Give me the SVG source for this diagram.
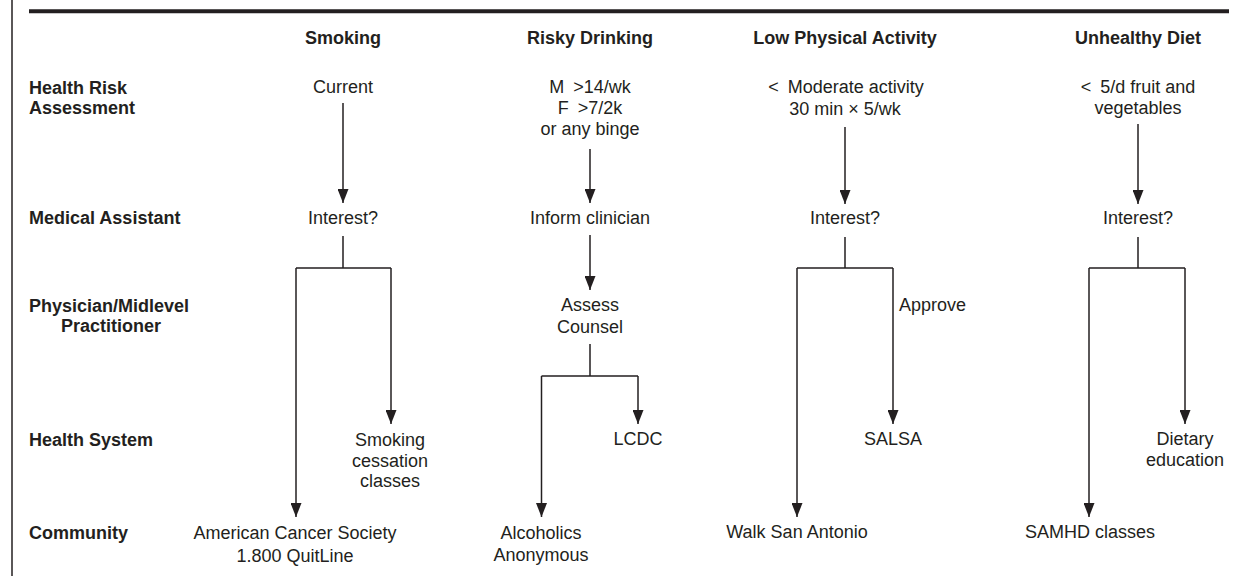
<svg xmlns="http://www.w3.org/2000/svg" width="1238" height="576" viewBox="0 0 1238 576">
<style>
text{font-family:"Liberation Sans",Arial,sans-serif;font-size:18px;fill:#231f20}
.b{font-weight:bold}
.m{text-anchor:middle}
.c line,.c path{stroke:#231f20;stroke-width:1.5;fill:none}
</style>
<defs>
<marker id="ah" markerUnits="userSpaceOnUse" markerWidth="14" markerHeight="11" refX="14" refY="5.5" orient="auto">
<path d="M0,0 L14,5.5 L0,11 Z" fill="#231f20"/>
</marker>
</defs>
<rect width="1238" height="576" fill="#fff"/>
<g id="frame">
<line x1="12" y1="0" x2="12" y2="576" stroke="#231f20" stroke-width="1.5"/>
<line x1="29" y1="11.3" x2="1229" y2="11.3" stroke="#231f20" stroke-width="4"/>
</g>
<g id="row-labels" class="b">
<text class="b" x="29" y="94">Health Risk</text>
<text class="b" x="29" y="114">Assessment</text>
<text class="b" x="29" y="224">Medical Assistant</text>
<text class="b" x="29" y="312">Physician/Midlevel</text>
<text class="b m" x="111" y="332">Practitioner</text>
<text class="b" x="29" y="446">Health System</text>
<text class="b" x="29" y="539">Community</text>
</g>
<g id="headers">
<text class="b m" x="343" y="44">Smoking</text>
<text class="b m" x="590" y="44">Risky Drinking</text>
<text class="b m" x="845" y="44">Low Physical Activity</text>
<text class="b m" x="1138" y="44">Unhealthy Diet</text>
</g>
<g class="c" id="connectors">
<line x1="343" y1="103" x2="343" y2="203" marker-end="url(#ah)"/>
<path d="M343,236 V268 M296,268 H391"/>
<line x1="296" y1="268" x2="296" y2="517" marker-end="url(#ah)"/>
<line x1="391" y1="268" x2="391" y2="424" marker-end="url(#ah)"/>
<line x1="590" y1="149" x2="590" y2="203" marker-end="url(#ah)"/>
<line x1="590" y1="235" x2="590" y2="290" marker-end="url(#ah)"/>
<path d="M590,344 V376 M541.5,376 H638"/>
<line x1="541.5" y1="376" x2="541.5" y2="517" marker-end="url(#ah)"/>
<line x1="638" y1="376" x2="638" y2="424" marker-end="url(#ah)"/>
<line x1="845" y1="127" x2="845" y2="204" marker-end="url(#ah)"/>
<path d="M845,237 V268 M797,268 H893"/>
<line x1="797" y1="268" x2="797" y2="517" marker-end="url(#ah)"/>
<line x1="893" y1="268" x2="893" y2="424" marker-end="url(#ah)"/>
<line x1="1138" y1="124" x2="1138" y2="204" marker-end="url(#ah)"/>
<path d="M1138,237 V268 M1089,268 H1185"/>
<line x1="1089" y1="268" x2="1089" y2="517" marker-end="url(#ah)"/>
<line x1="1185" y1="268" x2="1185" y2="424" marker-end="url(#ah)"/>
</g>
<g id="smoking-current"><text class="m" x="343" y="93">Current</text></g>
<g id="smoking-interest"><text class="m" x="343" y="224">Interest?</text></g>
<g id="smoking-classes"><text class="m" x="390" y="446">Smoking</text><text class="m" x="390" y="466.5">cessation</text><text class="m" x="390" y="487">classes</text></g>
<g id="smoking-acs"><text class="m" x="295" y="539">American Cancer Society</text><text class="m" x="295" y="562">1.800 QuitLine</text></g>
<g id="drinking-criteria"><text class="m" x="590" y="93">M <tspan dx="4">&gt;14/wk</tspan></text><text class="m" x="590" y="114">F <tspan dx="4">&gt;7/2k</tspan></text><text class="m" x="590" y="135">or any binge</text></g>
<g id="drinking-inform"><text class="m" x="590" y="224">Inform clinician</text></g>
<g id="drinking-assess"><text class="m" x="590" y="311">Assess</text><text class="m" x="590" y="333">Counsel</text></g>
<g id="drinking-lcdc"><text class="m" x="638" y="445">LCDC</text></g>
<g id="drinking-aa"><text class="m" x="541" y="539">Alcoholics</text><text class="m" x="541" y="561">Anonymous</text></g>
<g id="activity-criteria"><text class="m" x="846" y="93">&lt; <tspan dx="4">Moderate activity</tspan></text><text class="m" x="845" y="115">30 min × 5/wk</text></g>
<g id="activity-interest"><text class="m" x="845" y="224">Interest?</text></g>
<g id="activity-approve"><text x="899" y="311">Approve</text></g>
<g id="activity-salsa"><text class="m" x="893" y="445">SALSA</text></g>
<g id="activity-walk"><text class="m" x="797" y="538">Walk San Antonio</text></g>
<g id="diet-criteria"><text class="m" x="1138" y="93">&lt; <tspan dx="4">5/d fruit and</tspan></text><text class="m" x="1138" y="114">vegetables</text></g>
<g id="diet-interest"><text class="m" x="1138" y="224">Interest?</text></g>
<g id="diet-education"><text class="m" x="1185" y="445">Dietary</text><text class="m" x="1185" y="466">education</text></g>
<g id="diet-samhd"><text class="m" x="1090" y="538">SAMHD classes</text></g>
</svg>
